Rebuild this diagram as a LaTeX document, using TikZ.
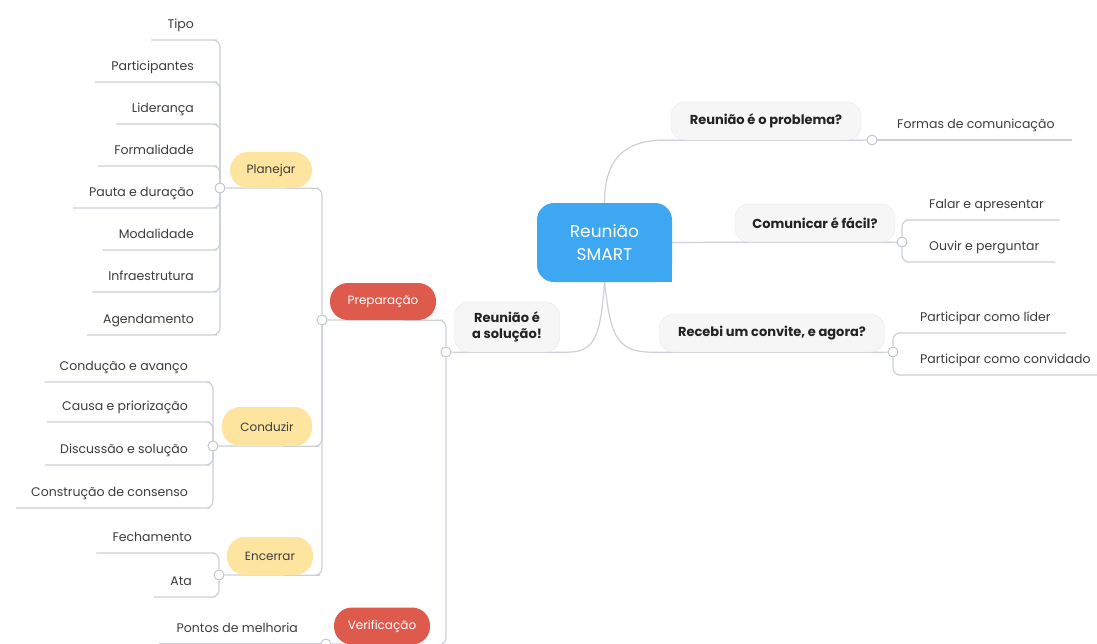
\documentclass[tikz,border=0pt]{standalone}
\usepackage{fontspec}
\setmainfont{Poppins}
\usetikzlibrary{calc}
\definecolor{hubblue}{RGB}{62,167,242}
\definecolor{phasered}{RGB}{222,90,76}
\definecolor{stepyellow}{RGB}{253,229,160}
\definecolor{linkgray}{RGB}{204,209,216}
\definecolor{knobgray}{RGB}{190,195,202}
\definecolor{topicbg}{RGB}{246,246,246}
\definecolor{topicedge}{RGB}{232,232,232}
\definecolor{inktext}{RGB}{60,60,60}
\definecolor{darktext}{RGB}{35,35,35}
\pgfdeclarelayer{paper}
\pgfdeclarelayer{links}
\pgfsetlayers{paper,links,main}
\newcommand\leaffont{\fontsize{12.5pt}{14pt}\selectfont}
\newcommand\pillfont{\fontsize{12pt}{14pt}\selectfont}
\newcommand\topicfont{\fontsize{13pt}{16pt}\selectfont\bfseries}
\begin{document}
\begin{tikzpicture}[x=1pt,y=-1pt,
  link/.style={draw=linkgray,line width=1.2pt,rounded corners=7pt},
  knob/.style={circle,draw=knobgray,fill=white,line width=0.9pt,minimum size=10pt,inner sep=0pt},
  leaf/.style={inner xsep=16pt,inner ysep=8pt,text height=9pt,text depth=3pt,font=\leaffont,text=inktext},
  leafleft/.style={leaf,anchor=south east},
  leafright/.style={leaf,anchor=south west},
  topic/.style={fill=topicbg,draw=topicedge,line width=0.4pt,rounded corners=14pt,inner sep=0pt,font=\topicfont,text=darktext,align=center},
  pill/.style={rounded corners=18pt,inner sep=0pt,minimum height=37pt,font=\pillfont},
  phase/.style={pill,fill=phasered,text=white},
  stepbox/.style={pill,fill=stepyellow,text=inktext},
  hub/.style={fill=hubblue,text=white,rounded corners=17pt,minimum width=135pt,minimum height=79pt,align=center,font=\fontsize{17pt}{23pt}\selectfont}
]
\begin{pgfonlayer}{paper}
\fill[white] (0,0) rectangle (1097,643);
\end{pgfonlayer}
\useasboundingbox (0,0) rectangle (1097,643);

% centre, with a square lower right corner
\node[hub] (C) at (604.5,242.5) {Reunião\\SMART};
\fill[hubblue] (C.south east) rectangle +(-20,-20);

% right-hand topics
\node[topic,minimum width=190pt,minimum height=38pt] (P1) at (766,121) {Reunião é o problema?};
\node[topic,minimum width=160pt,minimum height=38pt] (P2) at (815,223) {Comunicar é fácil?};
\node[topic,minimum width=225pt,minimum height=38pt] (P3) at (772,333) {Recebi um convite, e agora?};
\node[knob] (k1) at (872,140) {};
\node[knob] (k2) at (902,242) {};
\node[knob] (k3) at (893,352) {};

\node[leafright,inner xsep=17pt] (F1) at (880,140) {Formas de comunicação};
\node[leafright] (F2) at (913,220) {Falar e apresentar};
\node[leafright] (F3) at (913,262) {Ouvir e perguntar};
\node[leafright,inner xsep=15pt] (F4) at (905,333) {Participar como líder};
\node[leafright,inner xsep=15pt] (F5) at (905,375) {Participar como convidado};

% left-hand topic
\node[topic,minimum width=105pt,minimum height=50pt] (P4) at (507,327) {Reunião é\\a solução!};
\node[knob] (k4) at (446,352) {};

% phases
\node[phase,minimum width=106pt] (Prep) at (383,301.5) {Preparação};
\node[phase,minimum width=96pt] (Ver) at (382,626) {Verificação};
\node[knob] (kP) at (322,320) {};
\node[knob] (kV) at (326,644) {};

% steps of the preparation
\node[stepbox,minimum width=82pt,minimum height=36pt] (Pl) at (271,170) {Planejar};
\node[stepbox,minimum width=90pt,minimum height=39pt] (Co) at (267,426.5) {Conduzir};
\node[stepbox,minimum width=86pt,minimum height=38pt] (En) at (270,556) {Encerrar};
\node[knob] (kPl) at (220,188) {};
\node[knob] (kCo) at (213,446) {};
\node[knob] (kEn) at (219,575) {};

% leaves of Planejar
\node[leafleft] (L1) at (210,40) {Tipo};
\node[leafleft] (L2) at (210,82) {Participantes};
\node[leafleft] (L3) at (210,124) {Liderança};
\node[leafleft] (L4) at (210,166) {Formalidade};
\node[leafleft] (L5) at (210,208) {Pauta e duração};
\node[leafleft] (L6) at (210,250) {Modalidade};
\node[leafleft] (L7) at (210,292) {Infraestrutura};
\node[leafleft] (L8) at (210,335) {Agendamento};

% leaves of Conduzir
\node[leafleft,inner xsep=15pt] (D1) at (203,382) {Condução e avanço};
\node[leafleft,inner xsep=15pt] (D2) at (203,422) {Causa e priorização};
\node[leafleft,inner xsep=15pt] (D3) at (203,465) {Discussão e solução};
\node[leafleft,inner xsep=15pt] (D4) at (203,508) {Construção de consenso};

% leaves of Encerrar
\node[leafleft] (E1) at (208,553) {Fechamento};
\node[leafleft] (E2) at (208,597) {Ata};

% leaf of Verificação
\node[leafleft,inner xsep=18pt] (V1) at (316,644) {Pontos de melhoria};

\begin{pgfonlayer}{links}
  % centre to topics
  \draw[link] (C.north) .. controls +(0,-45) and +(-45,0) .. (P1.south west) -- (P1.south east) -- (k1);
  \draw[link] (C.east) -- (P2.south west) -- (P2.south east) -- (k2);
  \draw[link] (C.south) .. controls +(6,50) and +(-45,0) .. (P3.south west) -- (P3.south east) -- (k3);
  \draw[link] (C.south) .. controls +(-4,55) and +(35,0) .. (P4.south east) -- (P4.south west) -- (k4);
  % right leaves
  \draw[link] (k1) -- (F1.south west) -- (F1.south east);
  \draw[link] (k2) |- (F2.south west) -- (F2.south east);
  \draw[link] (k2) |- (F3.south west) -- (F3.south east);
  \draw[link] (k3) |- (F4.south west) -- (F4.south east);
  \draw[link] (k3) |- (F5.south west) -- (F5.south east);
  % phases
  \draw[link] (kP) -- (Prep.south east) -| (k4);
  \draw[link] (kV) -- (Ver.south east) -| (k4);
  % steps
  \draw[link] (kPl) -- (Pl.south east) -| (kP);
  \draw[link] (kCo) -- (Co.south east) -| (kP);
  \draw[link] (kEn) -- (En.south east) -| (kP);
  % leaves
  \foreach \n in {L1,L2,L3,L4,L5,L6,L7,L8}
    \draw[link] (kPl) |- (\n.south east) -- (\n.south west);
  \foreach \n in {D1,D2,D3,D4}
    \draw[link] (kCo) |- (\n.south east) -- (\n.south west);
  \foreach \n in {E1,E2}
    \draw[link] (kEn) |- (\n.south east) -- (\n.south west);
  \draw[link] (kV) -- (V1.south east) -- (V1.south west);
\end{pgfonlayer}
\end{tikzpicture}
\end{document}
